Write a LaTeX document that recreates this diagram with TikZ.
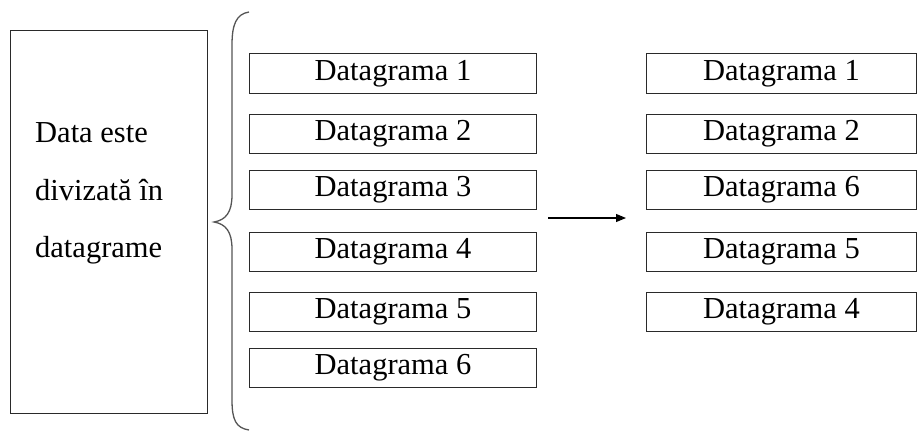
\documentclass[tikz,border=0pt]{standalone}
\usepackage{fontspec}
\setmainfont{Liberation Serif}
\usetikzlibrary{arrows.meta}
\definecolor{edge}{HTML}{2A2A2A}
\definecolor{bracecol}{HTML}{555555}
\begin{document}
\begin{tikzpicture}[x=1pt,y=-1pt,
  txt/.style={font=\fontsize{30.5}{31}\selectfont, text=black},
  dbox/.style={draw=edge, line width=1.1pt, minimum width=287pt, minimum height=39.5pt, inner sep=0pt, txt},
  rbox/.style={dbox, minimum width=270pt},
  ltxt/.style={txt, anchor=base west, inner sep=0pt},
  bracepath/.style={draw=bracecol, line width=1.3pt},
  conn/.style={draw=black, line width=1.1pt, -{Triangle[length=10pt,width=8pt]}}]
\useasboundingbox (0,0) rectangle (922,431);

% source box
\node[draw=edge, line width=1.1pt, minimum width=197pt, minimum height=383pt, inner sep=0pt, anchor=north west] (src) at (9.5,29.5) {};
\node[ltxt] (t1) at (35,142) {Data este};
\node[ltxt] (t2) at (35,200) {divizată în};
\node[ltxt] (t3) at (35,257) {datagrame};

% brace
\coordinate (bt) at (249,12);
\coordinate (bm) at (214,222);
\coordinate (bb) at (249,430);
\path[bracepath] (bt) .. controls (236,14) and (232,25) .. (232,45) -- (232,195) .. controls (232,212) and (226,220) .. (bm) .. controls (226,224) and (232,232) .. (232,249) -- (232,400) .. controls (232,420) and (236,428) .. (bb);

% middle column
\node[dbox] (m1) at (393,73.5) {Datagrama 1};
\node[dbox] (m2) at (393,134) {Datagrama 2};
\node[dbox] (m3) at (393,190) {Datagrama 3};
\node[dbox] (m4) at (393,252) {Datagrama 4};
\node[dbox] (m5) at (393,312) {Datagrama 5};
\node[dbox] (m6) at (393,368) {Datagrama 6};

% right column
\node[rbox] (r1) at (781.5,73.5) {Datagrama 1};
\node[rbox] (r2) at (781.5,134) {Datagrama 2};
\node[rbox] (r3) at (781.5,190) {Datagrama 6};
\node[rbox] (r4) at (781.5,252) {Datagrama 5};
\node[rbox] (r5) at (781.5,312) {Datagrama 4};

% arrow
\coordinate (a1) at (548,218);
\coordinate (a2) at (626,218);
\draw[conn] (a1) -- (a2);
\end{tikzpicture}
\end{document}
